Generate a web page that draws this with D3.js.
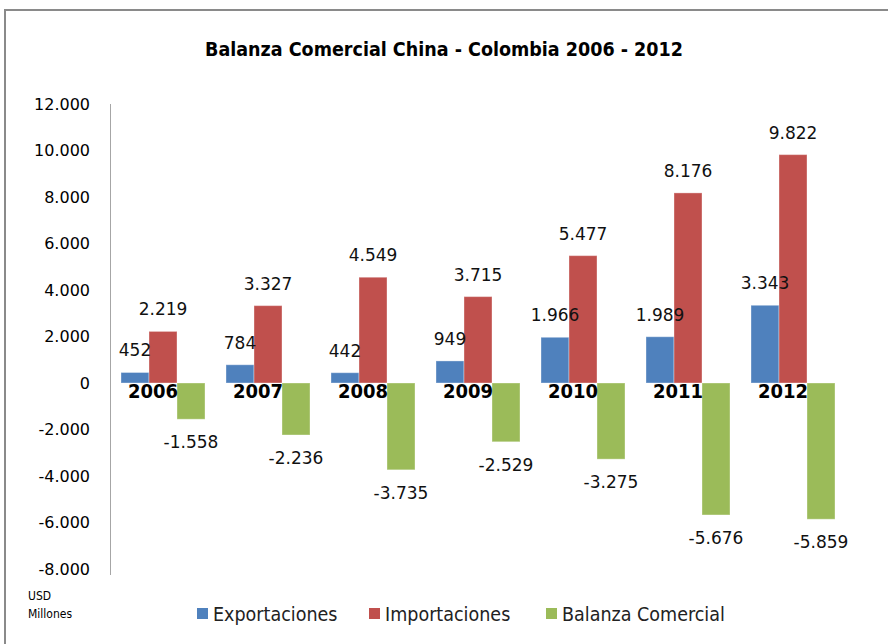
<!DOCTYPE html>
<html>
<head>
<meta charset="utf-8">
<script src="https://cdn.jsdelivr.net/npm/d3@7"></script>
<style>
  body { margin: 0; background: #fff; }
  svg { display: block; }
</style>
</head>
<body>
<svg id="canvas"></svg>
<script>
// data
let years = ["2006", "2007", "2008", "2009", "2010", "2011", "2012"];
let seriesNames = ["Exportaciones", "Importaciones", "Balanza Comercial"];
let seriesColors = ["#4F81BD", "#C0504D", "#9BBB59"];
let exportaciones = [452, 784, 442, 949, 1966, 1989, 3343];
let importaciones = [2219, 3327, 4549, 3715, 5477, 8176, 9822];
let balanza = [-1558, -2236, -3735, -2529, -3275, -5676, -5859];
let yTicks = [-8000, -6000, -4000, -2000, 0, 2000, 4000, 6000, 8000, 10000, 12000];

let width = 888;
let height = 644;
let narrow = "'DejaVu Sans Condensed', 'DejaVu Sans', sans-serif";
let sans = "'DejaVu Sans', sans-serif";

let canvas = d3.select("#canvas")
  .attr("width", width)
  .attr("height", height);

let fmt = d3.formatLocale({ decimal: ",", thousands: ".", grouping: [3], currency: ["", ""], minus: "-" }).format(",d");

let values = [];
years.forEach((y, i) => {
  values.push({ year: y, s: 0, v: exportaciones[i] });
  values.push({ year: y, s: 1, v: importaciones[i] });
  values.push({ year: y, s: 2, v: balanza[i] });
});

// frame
canvas.append("rect")
  .attr("x", 5).attr("y", 10)
  .attr("width", width + 20).attr("height", height + 20)
  .attr("fill", "none")
  .attr("stroke", "#8a8a8a")
  .attr("stroke-width", 2);

canvas.append("text")
  .attr("x", 444).attr("y", 56)
  .attr("text-anchor", "middle")
  .style("font-family", narrow)
  .style("font-weight", "bold")
  .style("font-size", "19.5px")
  .text("Balanza Comercial China - Colombia 2006 - 2012");

let xScale = d3.scaleBand()
  .domain(years)
  .range([110.5, 845.5])
  .paddingInner(0.2)
  .paddingOuter(0.1);

let xSub = d3.scaleBand()
  .domain([0, 1, 2])
  .range([0, xScale.bandwidth()]);

let yScale = d3.scaleLinear()
  .domain([-8000, 12000])
  .range([569, 104]);

// y axis
let yAxis = d3.axisLeft(yScale)
  .tickValues(yTicks)
  .tickSize(0)
  .tickPadding(20)
  .tickFormat(d => fmt(d));

let gy = canvas.append("g")
  .attr("transform", "translate(110,0)")
  .call(yAxis);
gy.select(".domain").attr("stroke", "#a6a6a6").attr("d", "M0.5,104V575");
gy.selectAll("text")
  .style("font-family", sans)
  .style("font-size", "16px")
  .attr("fill", "#000");

// bars
canvas.selectAll("rect.bar")
  .data(values)
  .enter()
  .append("rect")
  .attr("class", "bar")
  .attr("x", d => xScale(d.year) + xSub(d.s))
  .attr("width", xSub.bandwidth())
  .attr("y", d => yScale(Math.max(0, d.v)))
  .attr("height", d => Math.abs(yScale(d.v) - yScale(0)))
  .attr("fill", d => seriesColors[d.s])
  .attr("stroke", "rgba(255,255,255,0.35)")
  .attr("stroke-width", 1);

// category labels at the zero line
canvas.selectAll("text.cat")
  .data(years)
  .enter()
  .append("text")
  .attr("class", "cat")
  .attr("x", d => xScale(d) + xScale.bandwidth() / 2 - 10)
  .attr("y", yScale(0) + 15)
  .attr("text-anchor", "middle")
  .style("font-family", narrow)
  .style("font-weight", "bold")
  .style("font-size", "20px")
  .text(d => d);

// data labels
canvas.selectAll("text.lbl")
  .data(values)
  .enter()
  .append("text")
  .attr("class", "lbl")
  .attr("x", d => xScale(d.year) + xSub(d.s) + xSub.bandwidth() / 2)
  .attr("y", d => d.v >= 0 ? yScale(d.v) - 16 : yScale(d.v) + 29)
  .attr("text-anchor", "middle")
  .style("font-family", sans)
  .style("font-size", "17px")
  .attr("fill", "#111")
  .text(d => fmt(d.v));

// unit note
canvas.append("text")
  .attr("x", 28).attr("y", 600)
  .style("font-family", narrow)
  .style("font-size", "12px")
  .text("USD");
canvas.append("text")
  .attr("x", 28).attr("y", 618)
  .style("font-family", narrow)
  .style("font-size", "12px")
  .text("Millones");

// legend
let legendX = [197, 369, 546];
let legend = canvas.selectAll("g.leg")
  .data(seriesNames)
  .enter()
  .append("g")
  .attr("class", "leg")
  .attr("transform", (d, i) => "translate(" + legendX[i] + ",608)");
legend.append("rect")
  .attr("width", 11).attr("height", 11)
  .attr("fill", (d, i) => seriesColors[i]);
legend.append("text")
  .attr("x", 16).attr("y", 13)
  .style("font-family", narrow)
  .style("font-size", "19.5px")
  .attr("fill", "#222")
  .text(d => d);
</script>
</body>
</html>
